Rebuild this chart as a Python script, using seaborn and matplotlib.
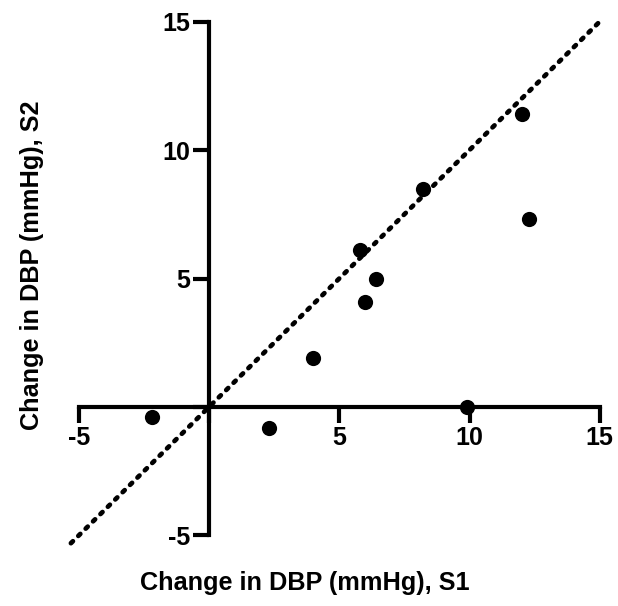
import matplotlib
matplotlib.use("Agg")
import matplotlib.pyplot as plt
import seaborn as sns
import pandas as pd

# Data
s1 = [-2.2, 2.3, 4.0, 5.8, 6.0, 6.4, 8.2, 9.9, 12.0, 12.3]
s2 = [-0.4, -0.8, 1.9, 6.1, 4.1, 5.0, 8.5, 0.0, 11.4, 7.3]
identity_x = [-5.3, 15.0]
identity_y = [-5.3, 15.0]
x_ticks = [-5, 0, 5, 10, 15]
x_ticklabels = ["-5", "", "5", "10", "15"]
y_ticks = [-5, 0, 5, 10, 15]
y_ticklabels = ["-5", "", "5", "10", "15"]
x_label = "Change in DBP (mmHg), S1"
y_label = "Change in DBP (mmHg), S2"

sns.set_theme(style="white")
plt.rcParams['font.family'] = ['Liberation Sans', 'DejaVu Sans']
plt.rcParams['text.color'] = 'black'
plt.rcParams['axes.labelcolor'] = 'black'
plt.rcParams['xtick.color'] = 'black'
plt.rcParams['ytick.color'] = 'black'

df = pd.DataFrame({"S1": s1, "S2": s2})
line_df = pd.DataFrame({"x": identity_x, "y": identity_y})

fig = plt.figure(figsize=(6.18, 6.06), dpi=100)
ax = fig.add_axes([0.1063, 0.0909, 0.8727, 0.8948])

sns.lineplot(data=line_df, x="x", y="y", ax=ax, color="black",
             linewidth=3.4, linestyle=(0, (0.6, 1.6)))
ax.lines[-1].set_dash_capstyle("round")
sns.scatterplot(data=df, x="S1", y="S2", ax=ax, color="black", s=120,
                edgecolor="black", linewidth=0, zorder=5)

ax.set_xlim(-5.5, 15.2)
ax.set_ylim(-5.6, 15.5)

for side in ["top", "right"]:
    ax.spines[side].set_visible(False)
ax.spines["left"].set_position(("data", 0))
ax.spines["bottom"].set_position(("data", 0))
ax.spines["left"].set_bounds(-5, 15)
ax.spines["bottom"].set_bounds(-5, 15)
for side in ["left", "bottom"]:
    ax.spines[side].set_linewidth(3.0)
    ax.spines[side].set_color("black")

ax.set_xticks(x_ticks)
ax.set_xticklabels(x_ticklabels)
ax.set_yticks(y_ticks)
ax.set_yticklabels(y_ticklabels)
ax.tick_params(axis="both", direction="out", length=11.5, width=3.0,
               color="black", labelcolor="black", labelsize=18, pad=2)
ax.tick_params(axis="x", bottom=True)
ax.tick_params(axis="y", left=True)
for lab in ax.get_xticklabels() + ax.get_yticklabels():
    lab.set_fontweight("bold")

ax.set_xlabel(x_label, fontsize=18.2, fontweight="bold", va="center", color="black")
ax.set_ylabel(y_label, fontsize=18.2, fontweight="bold", va="center", color="black")
ax.xaxis.set_label_coords(0.4437, -0.059)
ax.yaxis.set_label_coords(-0.062, 0.527)

fig.savefig("out.png", dpi=100)
